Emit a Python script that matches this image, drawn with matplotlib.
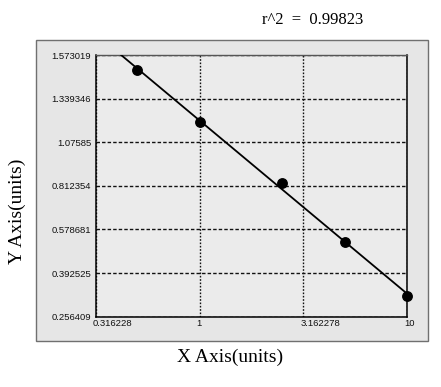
import numpy as np
import matplotlib
matplotlib.use("Agg")
import matplotlib.pyplot as plt
from matplotlib.patches import Rectangle
from matplotlib.ticker import NullLocator
import matplotlib.transforms as mtransforms

# standard curve data
conc = [0.5, 1.0, 2.5, 5.0, 10.0]
od = [1.493, 1.197, 0.828, 0.524, 0.321]

x_ticks = [0.316228, 1, 3.162278, 10]
x_tick_labels = ["0.316228", "1", "3.162278", "10"]
y_ticks = [0.256409, 0.392525, 0.578681, 0.812354, 1.07585, 1.339346, 1.573019]
y_tick_labels = ["0.256409", "0.392525", "0.578681", "0.812354", "1.07585", "1.339346", "1.573019"]
r2_text = "r^2  =  0.99823"

# y axis of the original is evenly spaced between its tick values
yt = np.array(y_ticks)
idx = np.arange(len(yt), dtype=float)


def fwd(v):
    v = np.asarray(v, dtype=float)
    out = np.interp(v, yt, idx)
    lo = v < yt[0]
    hi = v > yt[-1]
    out = np.where(lo, (v - yt[0]) / (yt[1] - yt[0]), out)
    out = np.where(hi, idx[-1] + (v - yt[-1]) / (yt[-1] - yt[-2]), out)
    return out


def inv(t):
    t = np.asarray(t, dtype=float)
    out = np.interp(t, idx, yt)
    out = np.where(t < 0, yt[0] + t * (yt[1] - yt[0]), out)
    out = np.where(t > idx[-1], yt[-1] + (t - idx[-1]) * (yt[-1] - yt[-2]), out)
    return out


fig = plt.figure(figsize=(4.41, 3.87), dpi=100)
fig.patch.set_facecolor("white")

# grey panel behind the plot
fig.patches.append(Rectangle((36 / 441, 1 - 341 / 387), 392 / 441, 301 / 387,
                             transform=fig.transFigure, facecolor="#e6e6e6",
                             edgecolor="#707070", lw=1.0, zorder=-1))

ax = fig.add_axes([96 / 441, 1 - 316.7 / 387, 311 / 441, 261.7 / 387])
ax.set_zorder(2)
ax.set_facecolor("#ebebeb")
ax.set_xscale("log")
ax.set_yscale("function", functions=(fwd, inv))
ax.set_xlim(x_ticks[0], x_ticks[-1])
ax.set_ylim(y_ticks[0], y_ticks[-1])

ax.set_xticks(x_ticks)
ax.set_xticklabels(x_tick_labels)
ax.xaxis.set_minor_locator(NullLocator())
ax.set_yticks(y_ticks)
ax.set_yticklabels(y_tick_labels)
ax.yaxis.set_minor_locator(NullLocator())

ax.tick_params(length=0, labelsize=6.8, colors="#111111")
ax.tick_params(axis="x", pad=1.5)
ax.tick_params(axis="y", pad=3.5)
for lab in ax.get_xticklabels():
    lab.set_fontfamily("Liberation Sans")
    lab.set_horizontalalignment("left")
    lab.set_transform(lab.get_transform() + mtransforms.ScaledTranslation(-3 / 100, 0, fig.dpi_scale_trans))
for lab in ax.get_yticklabels():
    lab.set_fontfamily("Liberation Sans")

ax.xaxis.grid(True, color="#111111", linestyle=(0, (1.2, 1.2)), lw=1.0)
ax.yaxis.grid(True, color="#111111", linestyle=(0, (2.5, 1.5)), lw=1.0)

for side in ["left", "bottom", "right"]:
    ax.spines[side].set_color("black")
    ax.spines[side].set_linewidth(1.1)
ax.spines["top"].set_color("#555555")
ax.spines["top"].set_linewidth(1.0)

# linear fit in (log x, scaled y)
lx = np.log10(conc)
ty = fwd(od)
k, b = np.polyfit(lx, ty, 1)
xf = np.logspace(np.log10(x_ticks[0]), np.log10(x_ticks[-1]), 60)
yf = inv(k * np.log10(xf) + b)
ax.plot(xf, yf, color="black", lw=1.3, zorder=3)
ax.plot(conc, od, "o", color="black", ms=6.8, zorder=4, clip_on=False)

fig.text(313 / 441, 1 - 20 / 387, r2_text, ha="center", va="center",
         fontsize=12, family="Liberation Serif")
fig.text(230 / 441, 1 - 357 / 387, "X Axis(units)", ha="center", va="center",
         fontsize=14, family="Liberation Serif")
fig.text(17 / 441, 1 - 211 / 387, "Y Axis(units)", ha="center", va="center",
         rotation=90, fontsize=14, family="Liberation Serif")

fig.savefig("out.png", dpi=100)
